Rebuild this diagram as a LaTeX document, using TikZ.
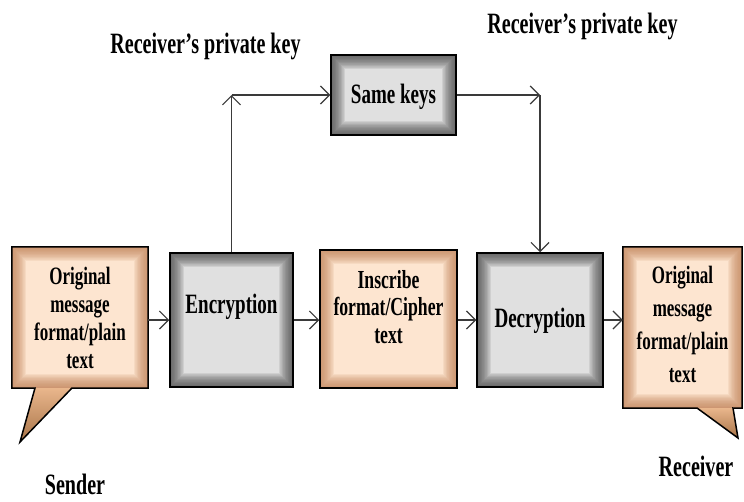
\documentclass[tikz,border=0pt]{standalone}
\usepackage{fontspec}
\setmainfont{Liberation Serif}[FakeStretch=0.68]
\usetikzlibrary{arrows.meta}

\definecolor{boxgray}{HTML}{E0E0E0}
\definecolor{edgegray}{HTML}{4A4A4A}
\definecolor{peach}{HTML}{FDE5D0}
\definecolor{edgepeach}{HTML}{C4845A}
\definecolor{taillight}{HTML}{E9B68C}
\definecolor{taildark}{HTML}{A87448}
\definecolor{wire}{HTML}{3A3A3A}

\tikzset{
  innerglow/.style={path picture={
      \foreach \k [evaluate=\k as \w using 1.2*\k] in {1,...,24}
        \draw[#1, opacity=0.055, line width=\w pt]
          (path picture bounding box.south west) rectangle (path picture bounding box.north east);}},
  graybox/.style={rectangle, fill=boxgray, draw=black, line width=1.5pt,
                  innerglow=edgegray, inner sep=0pt},
  peachbox/.style={rectangle, fill=peach, draw=black, line width=1.5pt,
                   innerglow=edgepeach, inner sep=0pt},
  calloutbody/.style={rectangle, fill=peach, draw=none,
                      innerglow=edgepeach, inner sep=0pt},
  outline/.style={draw=black, line width=1.5pt, line join=miter},
  tailfill/.style={top color=taillight, bottom color=taildark, draw=none},
  boxtext/.style={font=\bfseries\fontsize{25}{28}\selectfont, align=center, inner sep=0pt},
  bigtext/.style={font=\bfseries\fontsize{28}{32}\selectfont, inner sep=0pt, anchor=base},
  keytext/.style={font=\bfseries\fontsize{29.5}{34}\selectfont, inner sep=0pt, anchor=base},
  arr/.style={draw=wire, line width=1.2pt, -{Straight Barb[length=9pt,width=18pt]}},
}

\begin{document}
\begin{tikzpicture}[x=1pt,y=-1pt]
\useasboundingbox (0,0) rectangle (744,501);

% process boxes
\node[calloutbody, minimum width=136pt, minimum height=141pt] (sender) at (80,317.5) {};
\node[graybox,  minimum width=123pt, minimum height=134pt] (enc)  at (231.5,320) {};
\node[peachbox, minimum width=137pt, minimum height=138pt] (insc) at (388.5,319) {};
\node[graybox,  minimum width=126pt, minimum height=134pt] (dec)  at (540,320) {};
\node[calloutbody, minimum width=119pt, minimum height=161pt] (recv) at (682.5,327.5) {};
\node[graybox,  minimum width=125pt, minimum height=80pt] (same) at (393.5,95) {};

% speech-bubble tails and outlines
\coordinate (stl) at (35,388);
\coordinate (str) at (72,388);
\coordinate (stip) at (20,442);
\fill[tailfill] (stl) -- (stip) -- (str) -- cycle;
\draw[outline] (sender.south west) -- (stl) -- (stip) -- (str) -- (sender.south east)
  -- (sender.north east) -- (sender.north west) -- cycle;

\coordinate (rtl) at (697,408);
\coordinate (rtr) at (733,408);
\coordinate (rtip) at (738,438);
\fill[tailfill] (rtl) -- (rtip) -- (rtr) -- cycle;
\draw[outline] (recv.south west) -- (rtl) -- (rtip) -- (rtr) -- (recv.south east)
  -- (recv.north east) -- (recv.north west) -- cycle;

% box texts
\node[boxtext] (sendertxt) at (80,318) {Original\\message\\format/plain\\text};
\node[bigtext] (enctxt) at (231.5,313) {Encryption};
\node[boxtext, font=\bfseries\fontsize{26}{27.5}\selectfont] (insctxt) at (388.5,307) {Inscribe\\format/Cipher\\text};
\node[bigtext] (dectxt) at (540,327) {Decryption};
\node[boxtext, font=\bfseries\fontsize{25}{33}\selectfont] (recvtxt) at (682.5,324.5) {Original\\message\\format/plain\\text};
\node[bigtext] (sametxt) at (393.5,103) {Same keys};

% free labels
\node[keytext] (key1) at (205.5,53) {Receiver’s private key};
\node[keytext] (key2) at (582.5,33) {Receiver’s private key};
\node[keytext] (sendlbl) at (75,494) {Sender};
\node[keytext] (recvlbl) at (696,476) {Receiver};

% main flow
\draw[arr] (sender.east |- enc.west) -- (enc.west);
\draw[arr] (enc.east) -- (insc.west |- enc.east);
\draw[arr] (insc.east |- dec.west) -- (dec.west);
\draw[arr] (dec.east) -- (recv.west |- dec.east);

% key path over the top
\coordinate (c1) at (enc.north |- same.west);
\coordinate (c2) at (dec.north |- same.east);
\draw[arr] (enc.north) -- (c1);
\draw[arr] (c1) -- (same.west);
\draw[arr] (same.east) -- (c2);
\draw[arr] (c2) -- (dec.north);
\end{tikzpicture}
\end{document}
